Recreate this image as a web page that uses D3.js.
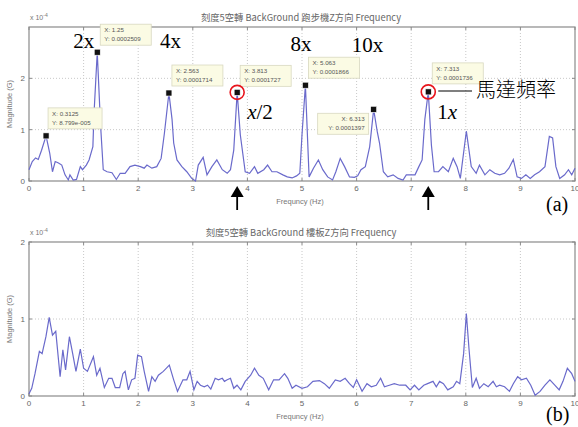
<!DOCTYPE html>
<html>
<head>
<meta charset="utf-8">
<script src="https://cdn.jsdelivr.net/npm/d3@7"></script>
<style>
  body { margin: 0; background: #fff; }
  svg { display: block; }
</style>
</head>
<body>
<svg id="chart" width="578" height="427"></svg>
<script>
// ---- data (magnitude in units of 1e-4 G) ----
const topFreq = [0, 0.06, 0.12, 0.17, 0.23, 0.3125, 0.38, 0.43, 0.48, 0.54, 0.6, 0.66, 0.72, 0.75, 0.81, 0.87, 0.94, 0.98, 1.05, 1.1, 1.17, 1.19, 1.25, 1.31, 1.36, 1.43, 1.52, 1.6, 1.67, 1.76, 1.85, 1.94, 2.04, 2.11, 2.16, 2.25, 2.34, 2.42, 2.48, 2.5625, 2.62, 2.65, 2.71, 2.8, 2.89, 2.98, 3.05, 3.1, 3.19, 3.26, 3.35, 3.44, 3.54, 3.63, 3.69, 3.75, 3.8125, 3.87, 3.96, 4.04, 4.13, 4.19, 4.3, 4.37, 4.45, 4.54, 4.65, 4.73, 4.82, 4.9, 4.96, 5.0, 5.0625, 5.13, 5.21, 5.3, 5.38, 5.47, 5.56, 5.62, 5.7, 5.78, 5.87, 5.96, 6.02, 6.08, 6.16, 6.24, 6.3125, 6.38, 6.42, 6.49, 6.57, 6.67, 6.76, 6.85, 6.91, 6.99, 7.07, 7.14, 7.2, 7.25, 7.3125, 7.37, 7.42, 7.5, 7.58, 7.68, 7.77, 7.84, 7.9, 8.01, 8.1, 8.19, 8.25, 8.35, 8.44, 8.53, 8.62, 8.71, 8.79, 8.87, 8.94, 9.02, 9.1, 9.18, 9.26, 9.35, 9.45, 9.53, 9.59, 9.65, 9.72, 9.81, 9.88, 9.94, 10];
const topMag = [0.22, 0.38, 0.45, 0.42, 0.6, 0.879, 0.54, 0.18, 0.38, 0.35, 0.31, 0.12, 0.02, 0.12, 0.02, 0.03, 0.28, 0.22, 0.31, 0.41, 0.67, 1.3, 2.509, 1.1, 0.22, 0.18, 0.16, 0.03, 0.15, 0.15, 0.28, 0.31, 0.28, 0.25, 0.31, 0.25, 0.28, 0.44, 0.93, 1.714, 1.2, 0.74, 0.41, 0.28, 0.18, 0.05, 0.0, 0.31, 0.46, 0.12, 0.28, 0.41, 0.22, 0.15, 0.22, 0.6, 1.727, 0.9, 0.18, 0.15, 0.28, 0.15, 0.22, 0.31, 0.18, 0.18, 0.12, 0.08, 0.06, 0.1, 0.15, 0.9, 1.866, 0.08, 0.25, 0.41, 0.22, 0.08, 0.02, 0.18, 0.44, 0.28, 0.08, 0.07, 0.1, 0.22, 0.28, 0.67, 1.397, 0.95, 0.74, 0.18, 0.08, 0.12, 0.05, 0.02, 0.12, 0.12, 0.12, 0.28, 0.41, 1.2, 1.736, 0.7, 0.18, 0.18, 0.28, 0.18, 0.44, 0.28, 0.05, 0.97, 0.28, 0.15, 0.31, 0.12, 0.22, 0.15, 0.12, 0.15, 0.25, 0.42, 0.08, 0.05, 0.12, 0.05, 0.12, 0.18, 0.28, 0.87, 0.84, 0.28, 0.05, 0.12, 0.22, 0.12, 0.25];

const botFreq = [0, 0.05, 0.11, 0.19, 0.24, 0.31, 0.37, 0.43, 0.49, 0.54, 0.57, 0.62, 0.67, 0.74, 0.8, 0.86, 0.94, 1.0, 1.07, 1.18, 1.24, 1.3, 1.38, 1.46, 1.52, 1.58, 1.66, 1.72, 1.76, 1.82, 1.88, 1.94, 1.99, 2.06, 2.11, 2.19, 2.25, 2.31, 2.37, 2.46, 2.57, 2.65, 2.72, 2.82, 2.89, 2.95, 3.02, 3.08, 3.14, 3.21, 3.27, 3.33, 3.41, 3.47, 3.54, 3.58, 3.63, 3.69, 3.75, 3.81, 3.88, 3.96, 4.06, 4.13, 4.21, 4.29, 4.39, 4.48, 4.58, 4.68, 4.74, 4.82, 4.89, 5.0, 5.1, 5.2, 5.32, 5.41, 5.5, 5.61, 5.7, 5.79, 5.87, 5.94, 6.0, 6.1, 6.19, 6.27, 6.36, 6.44, 6.51, 6.6, 6.69, 6.79, 6.9, 6.98, 7.06, 7.14, 7.23, 7.3, 7.4, 7.46, 7.52, 7.59, 7.67, 7.77, 7.83, 7.89, 7.96, 8.01, 8.06, 8.12, 8.19, 8.25, 8.33, 8.41, 8.5, 8.56, 8.62, 8.71, 8.8, 8.87, 8.95, 9.02, 9.11, 9.19, 9.27, 9.36, 9.45, 9.54, 9.63, 9.71, 9.78, 9.86, 9.94, 10];
const botMag = [0.03, 0.1, 0.29, 0.58, 0.55, 0.77, 1.02, 0.79, 0.84, 0.47, 0.25, 0.6, 0.34, 0.77, 0.55, 0.32, 0.61, 0.36, 0.32, 0.51, 0.27, 0.36, 0.11, 0.23, 0.23, 0.11, 0.11, 0.29, 0.32, 0.08, 0.21, 0.23, 0.53, 0.51, 0.32, 0.06, 0.25, 0.19, 0.27, 0.32, 0.4, 0.21, 0.06, 0.21, 0.21, 0.32, 0.08, 0.19, 0.14, 0.12, 0.14, 0.09, 0.23, 0.21, 0.23, 0.19, 0.21, 0.23, 0.1, 0.14, 0.08, 0.19, 0.27, 0.36, 0.27, 0.23, 0.08, 0.21, 0.21, 0.29, 0.23, 0.1, 0.14, 0.1, 0.12, 0.19, 0.2, 0.16, 0.1, 0.21, 0.19, 0.23, 0.16, 0.11, 0.21, 0.06, 0.16, 0.12, 0.14, 0.23, 0.12, 0.14, 0.16, 0.14, 0.14, 0.08, 0.14, 0.08, 0.14, 0.16, 0.19, 0.12, 0.19, 0.16, 0.08, 0.12, 0.19, 0.16, 0.55, 1.07, 0.6, 0.11, 0.23, 0.1, 0.16, 0.12, 0.19, 0.12, 0.14, 0.12, 0.06, 0.16, 0.25, 0.21, 0.23, 0.14, 0.01, 0.06, 0.14, 0.21, 0.14, 0.08, 0.19, 0.36, 0.29, 0.19];

const xTicks = [0, 1, 2, 3, 4, 5, 6, 7, 8, 9, 10];
const topYTicks = [0, 1, 2];
const botYTicks = [0, 1, 2];

// data tips on the top panel
const tipX = [0.3125, 1.25, 2.5625, 3.8125, 5.0625, 6.3125, 7.3125];
const tipXText = ["0.3125", "1.25", "2.563", "3.813", "5.063", "6.313", "7.313"];
const tipYText = ["8.799e-005", "0.0002509", "0.0001714", "0.0001727", "0.0001866", "0.0001397", "0.0001736"];
const tipY = [0.879, 2.509, 1.714, 1.727, 1.866, 1.397, 1.736];

const harmonicLabel = ["2x", "4x", "8x", "10x"];
const harmonicFreq = [1.25, 2.5625, 5.0625, 6.3125];

const svg = d3.select("#chart");
const x = d3.scaleLinear().domain([0, 10]).range([29, 575]);
const yTop = d3.scaleLinear().domain([0, 3]).range([181, 27]);
const yBot = d3.scaleLinear().domain([0, 2]).range([396, 242]);

const lineColor = "#6a6acb";
const axisColor = "#8a8a8a";
const tickFont = "Liberation Sans, Arial, sans-serif";
const serif = "Liberation Serif, Times New Roman, serif";

function panel(y, yTicks, freq, mag, title, xLabelY) {
  const g = svg.append("g");
  const [y0, y1] = y.range();
  const x0 = x.range()[0], x1 = x.range()[1];

  // grid
  g.selectAll(".gx").data(xTicks.slice(1, -1)).enter().append("line")
    .attr("x1", d => x(d)).attr("x2", d => x(d))
    .attr("y1", y0).attr("y2", y1)
    .attr("stroke", "#c8c8c8").attr("stroke-dasharray", "1,2");
  g.selectAll(".gy").data(yTicks.filter(d => d > 0 && y(d) > y1 + 1)).enter().append("line")
    .attr("x1", x0).attr("x2", x1)
    .attr("y1", d => y(d)).attr("y2", d => y(d))
    .attr("stroke", "#c8c8c8").attr("stroke-dasharray", "1,2");

  // axes box
  g.append("rect").attr("x", x0).attr("y", y1).attr("width", x1 - x0).attr("height", y0 - y1)
    .attr("fill", "none").attr("stroke", axisColor).attr("stroke-width", 1.2);

  // tick marks
  g.selectAll(".tb").data(xTicks).enter().append("line")
    .attr("x1", d => x(d)).attr("x2", d => x(d)).attr("y1", y0).attr("y2", y0 - 3)
    .attr("stroke", axisColor);
  g.selectAll(".tt").data(xTicks).enter().append("line")
    .attr("x1", d => x(d)).attr("x2", d => x(d)).attr("y1", y1).attr("y2", y1 + 3)
    .attr("stroke", axisColor);
  g.selectAll(".tl").data(yTicks).enter().append("line")
    .attr("x1", x0).attr("x2", x0 + 3).attr("y1", d => y(d)).attr("y2", d => y(d))
    .attr("stroke", axisColor);
  g.selectAll(".tr").data(yTicks).enter().append("line")
    .attr("x1", x1).attr("x2", x1 - 3).attr("y1", d => y(d)).attr("y2", d => y(d))
    .attr("stroke", axisColor);

  // tick labels
  g.selectAll(".xl").data(xTicks).enter().append("text")
    .attr("x", d => x(d)).attr("y", y0 + 10)
    .attr("text-anchor", "middle").attr("font-family", tickFont).attr("font-size", 8)
    .attr("fill", "#666").text(d => d);
  g.selectAll(".yl").data(yTicks).enter().append("text")
    .attr("x", x0 - 4).attr("y", d => y(d) + 3)
    .attr("text-anchor", "end").attr("font-family", tickFont).attr("font-size", 8)
    .attr("fill", "#666").text(d => d);

  // exponent
  const ex = g.append("text").attr("x", x0 + 1).attr("y", y1 - 7)
    .attr("font-family", tickFont).attr("font-size", 7).attr("fill", "#777");
  ex.append("tspan").text("x 10");
  ex.append("tspan").attr("dy", -3).attr("font-size", 5).text("-4");

  // title
  g.append("text").attr("x", 301).attr("y", y1 - 6)
    .attr("text-anchor", "middle").attr("font-family", "Noto Sans CJK TC, sans-serif")
    .attr("font-size", 9.3).attr("fill", "#666").text(title);

  // axis labels
  g.append("text").attr("x", 300).attr("y", xLabelY)
    .attr("text-anchor", "middle").attr("font-family", tickFont).attr("font-size", 7.5)
    .attr("fill", "#777").text("Frequncy (Hz)");
  g.append("text")
    .attr("transform", `translate(12, ${(y0 + y1) / 2}) rotate(-90)`)
    .attr("text-anchor", "middle").attr("font-family", tickFont).attr("font-size", 7.5)
    .attr("fill", "#777").text("Magnitude  (G)");

  // spectrum line
  const line = d3.line().x((d, i) => x(freq[i])).y(d => y(d));
  g.append("path").datum(mag).attr("d", line)
    .attr("fill", "none").attr("stroke", lineColor).attr("stroke-width", 1.2);
  return g;
}

const gTop = panel(yTop, topYTicks, topFreq, topMag, "刻度5空轉 BackGround 跑步機Z方向 Frequency", 204);
const gBot = panel(yBot, botYTicks, botFreq, botMag, "刻度5空轉 BackGround 樓板Z方向 Frequency", 419);

// data tips: box offset from its marker (px); the 6.313 tip sits left of its marker
const tipDx = [2, 3, 3, 3, 3, -56, 4];
const tipDy = [-28, -28, -28, -27, -28, 4, -29];
const tipW = (i) => tipYText[i].length > 9 ? 54 : 51;
const rightAligned = (i) => tipDx[i] < 0;
const tips = gTop.selectAll(".tip").data(tipX).enter().append("g");
tips.append("rect")
  .attr("x", (d, i) => x(d) + tipDx[i]).attr("y", (d, i) => yTop(tipY[i]) + tipDy[i])
  .attr("width", (d, i) => tipW(i)).attr("height", 21)
  .attr("fill", "#fbfbe4").attr("stroke", "#d8d8c0").attr("stroke-width", 0.8);
["X: ", "Y: "].forEach((pre, k) => {
  tips.append("text")
    .attr("x", (d, i) => rightAligned(i) ? x(d) + tipDx[i] + tipW(i) - 4 : x(d) + tipDx[i] + 4)
    .attr("y", (d, i) => yTop(tipY[i]) + tipDy[i] + 8 + k * 9)
    .attr("text-anchor", (d, i) => rightAligned(i) ? "end" : "start")
    .attr("font-family", tickFont).attr("font-size", 6.2).attr("fill", "#555")
    .text((d, i) => pre + (k === 0 ? tipXText[i] : tipYText[i]));
});
tips.append("rect")
  .attr("x", (d, i) => x(d) - 3).attr("y", (d, i) => yTop(tipY[i]) - 3)
  .attr("width", 6).attr("height", 6).attr("fill", "#111").attr("stroke", "#fff").attr("stroke-width", 0.6);

// harmonic labels
const hDx = [-24, -9, -15, -22];
const hY = [48, 48, 51, 52];
gTop.selectAll(".hl").data(harmonicLabel).enter().append("text")
  .attr("x", (d, i) => x(harmonicFreq[i]) + hDx[i])
  .attr("y", (d, i) => hY[i])
  .attr("font-family", serif).attr("font-size", 21).attr("fill", "#000").text(d => d);

// x/2 and 1x labels
const lx2 = gTop.append("text").attr("x", x(3.8125) + 10).attr("y", 119)
  .attr("font-family", serif).attr("font-size", 21).attr("fill", "#000");
lx2.append("tspan").attr("font-style", "italic").text("x");
lx2.append("tspan").text("/2");
const l1x = gTop.append("text").attr("x", x(7.3125) + 9).attr("y", 119)
  .attr("font-family", serif).attr("font-size", 21).attr("fill", "#000");
l1x.append("tspan").text("1");
l1x.append("tspan").attr("font-style", "italic").text("x");

// red circles
[3.8125, 7.3125].forEach((f, i) => {
  gTop.append("circle").attr("cx", x(f)).attr("cy", yTop([1.727, 1.736][i]))
    .attr("r", 7).attr("fill", "none").attr("stroke", "#e8141c").attr("stroke-width", 1.6);
});

// motor frequency callout
gTop.append("line").attr("x1", x(7.3125) + 10).attr("x2", 472).attr("y1", 91).attr("y2", 91)
  .attr("stroke", "#000").attr("stroke-width", 1.2);
gTop.append("text").attr("x", 476).attr("y", 97)
  .attr("font-family", "Noto Sans CJK TC, sans-serif").attr("font-size", 20).attr("font-weight", 300)
  .attr("fill", "#000").text("馬達頻率");

// arrows under axis
[3.8125, 7.3125].forEach(f => {
  const ax = x(f);
  gTop.append("line").attr("x1", ax).attr("x2", ax).attr("y1", 195).attr("y2", 210)
    .attr("stroke", "#000").attr("stroke-width", 1.8);
  gTop.append("path").attr("d", `M${ax - 6.5},197 L${ax},186 L${ax + 6.5},197 Z`).attr("fill", "#000");
});

// panel tags
svg.append("text").attr("x", 546).attr("y", 211).attr("font-family", serif).attr("font-size", 20).text("(a)");
svg.append("text").attr("x", 546).attr("y", 421).attr("font-family", serif).attr("font-size", 20).text("(b)");
</script>
</body>
</html>
